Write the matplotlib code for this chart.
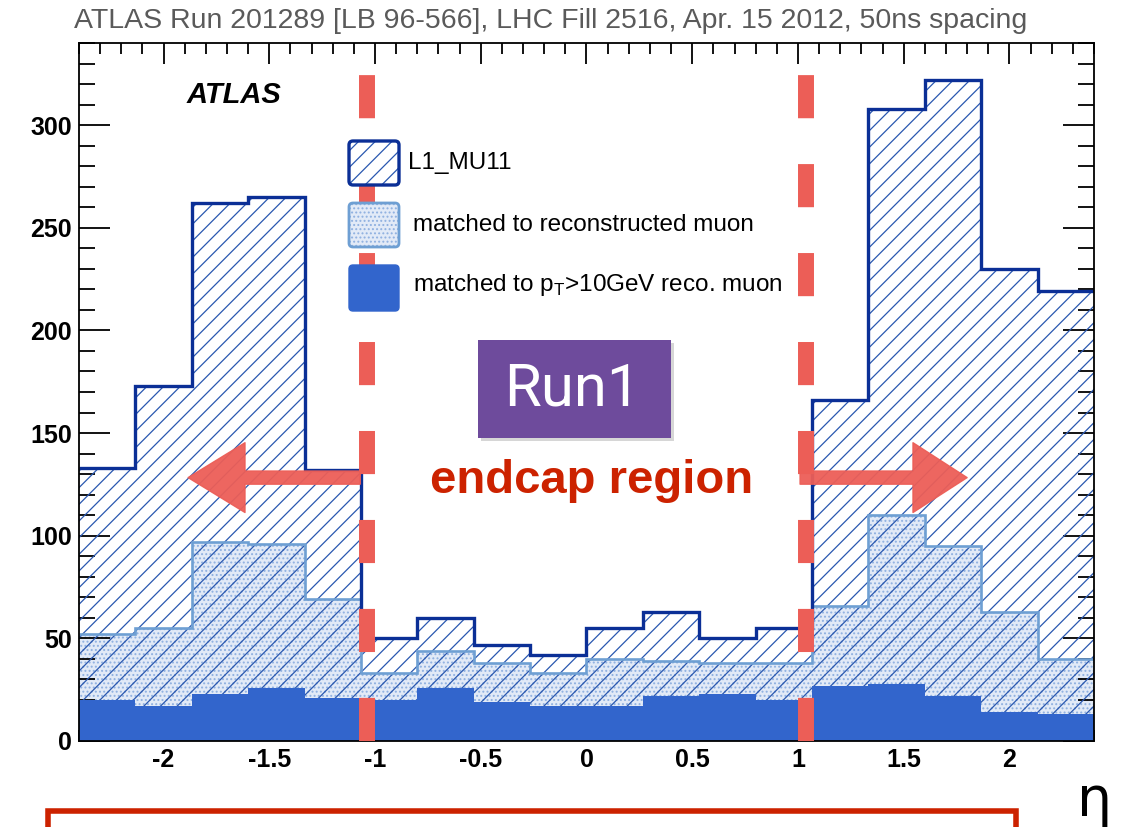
import numpy as np
import matplotlib
matplotlib.use("Agg")
import matplotlib.pyplot as plt
from matplotlib.patches import FancyBboxPatch, Polygon, Rectangle
from matplotlib.transforms import IdentityTransform

# ---------------- data ----------------
bin_edges = np.linspace(-2.4, 2.4, 19)
l1_mu11 = [133, 173, 262, 265, 132, 50, 60, 47, 42, 55, 63, 50, 55, 166, 308, 322, 230, 219]
matched_reco = [52, 55, 97, 96, 69, 33, 44, 38, 33, 40, 39, 38, 38, 66, 110, 95, 63, 40]
matched_pt10 = [20, 17, 23, 26, 21, 20, 26, 19, 17, 17, 22, 23, 20, 27, 28, 22, 14, 13]
legend_labels = ["L1_MU11", "matched to reconstructed muon",
                 "matched to p$_{\\mathregular{T}}$>10GeV reco. muon"]
xtick_vals = [-2, -1.5, -1, -0.5, 0, 0.5, 1, 1.5, 2]
xtick_labels = ["-2", "-1.5", "-1", "-0.5", "0", "0.5", "1", "1.5", "2"]
ytick_vals = [0, 50, 100, 150, 200, 250, 300]
endcap_bounds = [-1.04, 1.04]
title_text = "ATLAS Run 201289 [LB 96-566], LHC Fill 2516, Apr. 15 2012, 50ns spacing"

W, H = 1121, 827
plt.rcParams['font.family'] = ['Liberation Sans', 'DejaVu Sans']
plt.rcParams['hatch.linewidth'] = 0.9

fig = plt.figure(figsize=(W / 100, H / 100), dpi=100)
ax_l, ax_r, ax_t, ax_b = 79, 1094, 43, 741
ax = fig.add_axes([ax_l / W, 1 - ax_b / H, (ax_r - ax_l) / W, (ax_b - ax_t) / H])
ax.set_xlim(-2.4, 2.4)
ax.set_ylim(0, 340)

navy = '#0B2F96'
hatch_blue = '#2A58B0'
reco_edge = '#6E9FD3'
solid_blue = '#3265CC'

# reco fill (dotted)
ax.stairs(matched_reco, bin_edges, baseline=0, fill=True, facecolor='#E2EAF7',
          edgecolor='#8FB0E0', hatch='....', linewidth=0, zorder=1)
# L1 hatch over everything
ax.stairs(l1_mu11, bin_edges, baseline=0, fill=True, facecolor='none',
          edgecolor=hatch_blue, hatch='//', linewidth=0, zorder=2)
# pT > 10 solid
ax.stairs(matched_pt10, bin_edges, baseline=0, fill=True, facecolor=solid_blue,
          edgecolor='none', linewidth=0, zorder=3)
# outlines
ax.stairs(matched_reco, bin_edges, baseline=None, fill=False, color=reco_edge,
          linewidth=1.9, zorder=4)
ax.stairs(l1_mu11, bin_edges, baseline=None, fill=False, color=navy,
          linewidth=2.4, zorder=5)

# axes styling
for s in ax.spines.values():
    s.set_linewidth(1.3)
    s.set_zorder(10)
ax.set_xticks(xtick_vals)
ax.set_xticklabels(xtick_labels)
ax.set_xticks(np.arange(-2.4, 2.41, 0.1), minor=True)
ax.set_yticks(ytick_vals)
ax.set_yticks(np.arange(0, 341, 10), minor=True)
ax.tick_params(axis='x', which='major', direction='in', length=15, width=1.3,
               top=True, bottom=True, labelsize=18, pad=5)
ax.tick_params(axis='x', which='minor', direction='in', length=8, width=1.3,
               top=True, bottom=True)
ax.tick_params(axis='y', which='major', direction='in', length=22, width=1.3,
               left=True, right=True, labelsize=18, pad=5)
ax.tick_params(axis='y', which='minor', direction='in', length=11.5, width=1.3,
               left=True, right=True)
for lab in ax.get_xticklabels() + ax.get_yticklabels():
    lab.set_fontweight('bold')

# ATLAS label
fig.text(234 / W, 1 - 95 / H, 'ATLAS', fontsize=21, fontweight='bold', fontstyle='italic',
         ha='center', va='center')

# title
fig.text(551 / W, 1 - 21 / H, title_text, fontsize=20.5, color='#5A5A5A',
         ha='center', va='center')

# legend (manual)
ident = IdentityTransform()
def box(x0, y0, x1, y1, **kw):
    p = FancyBboxPatch((x0, H - y1), x1 - x0, y1 - y0,
                       boxstyle='round,pad=0,rounding_size=4', transform=ident, **kw)
    fig.add_artist(p)
    return p

box(349, 141, 399, 185, facecolor='white', edgecolor=hatch_blue, hatch='//', linewidth=0, zorder=20)
box(349, 141, 399, 185, facecolor='none', edgecolor=navy, linewidth=2.4, zorder=21)
box(349, 203, 399, 247, facecolor='#E2EAF7', edgecolor='#8FB0E0', hatch='....', linewidth=0, zorder=20)
box(349, 203, 399, 247, facecolor='none', edgecolor=reco_edge, linewidth=2.0, zorder=21)
box(349, 265, 399, 311, facecolor=solid_blue, edgecolor=solid_blue, linewidth=1, zorder=20)

fig.text(408 / W, 1 - 163 / H, legend_labels[0], fontsize=17.5, ha='left', va='center', zorder=22)
fig.text(413 / W, 1 - 225 / H, legend_labels[1], fontsize=17.5, ha='left', va='center', zorder=22)
fig.text(413 / W, 1 - 285 / H, legend_labels[2], fontsize=17.5, ha='left', va='center', zorder=22)

# dashed endcap boundaries
red_dash = '#EC5E57'
for xb in endcap_bounds:
    ln, = ax.plot([xb, xb], [0, 326], color=red_dash, linewidth=11.5,
                  dash_capstyle='butt', zorder=30, clip_on=False)
    ln.set_dashes([2.7, 2.87])

# arrows (hand-drawn style)
yc = 128.3
head = 17
shaft = 3.2
left_arrow = [(-1.07, yc - shaft), (-1.615, yc - shaft), (-1.615, yc - head), (-1.884, yc),
              (-1.615, yc + head), (-1.615, yc + shaft), (-1.07, yc + shaft)]
right_arrow = [(1.01, yc - shaft), (1.544, yc - shaft), (1.544, yc - head), (1.80, yc),
               (1.544, yc + head), (1.544, yc + shaft), (1.01, yc + shaft)]
for pts in (left_arrow, right_arrow):
    ax.add_patch(Polygon(pts, closed=True, facecolor=red_dash, edgecolor=red_dash,
                         linewidth=1, zorder=29, alpha=0.95, joinstyle='round'))

# Run1 box with shadow
fig.add_artist(Rectangle((481, H - 441), 193, 98, transform=ident, facecolor='#BBBBBB',
                         edgecolor='none', zorder=24, alpha=0.6))
fig.add_artist(Rectangle((478, H - 438), 193, 98, transform=ident, facecolor='#6E4B9C',
                         edgecolor='none', zorder=25))
fig.text(572 / W, 1 - 389 / H, 'Run1', fontsize=43, color='white',
         family=['Roboto', 'Liberation Sans'], fontweight='normal',
         ha='center', va='center', zorder=26)

# endcap region label
fig.text(592 / W, 1 - 481 / H, 'endcap region', fontsize=34, color='#CC2200', fontweight='bold',
         ha='center', va='center', zorder=26)

# bottom red box (cut off)
fig.add_artist(Rectangle((48, -20), 968, H - 811 + 20, transform=ident, facecolor='none',
                         edgecolor='#CC2200', linewidth=4, zorder=26, clip_on=False))

# eta label
fig.text(1095 / W, 1 - 801 / H, 'η', fontsize=40, color='black', family=['DejaVu Sans'],
         ha='center', va='center')

fig.savefig('out.png', dpi=100)
